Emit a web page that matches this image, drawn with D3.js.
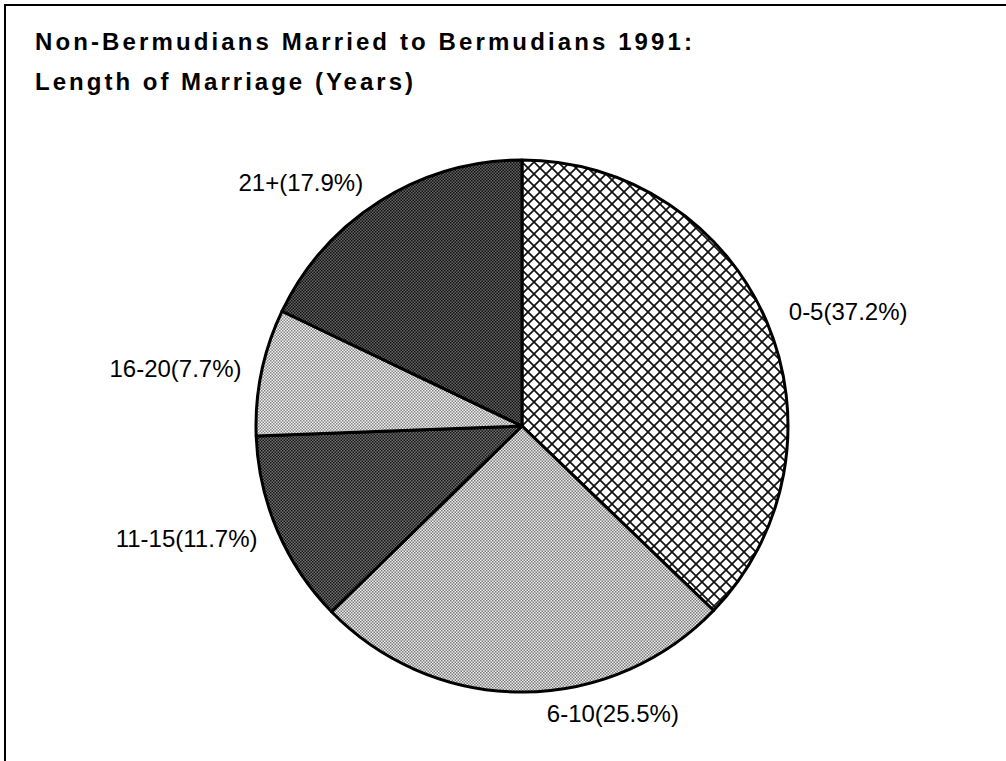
<!DOCTYPE html>
<html>
<head>
<meta charset="utf-8">
<script src="https://cdn.jsdelivr.net/npm/d3@7"></script>
<style>
  html, body { margin: 0; padding: 0; background: #fff; }
  svg { display: block; }
</style>
</head>
<body>
<svg id="chart" width="1006" height="761"></svg>
<script>
const titleLines = ["Non-Bermudians Married to Bermudians 1991:", "Length of Marriage (Years)"];
const categories = ["0-5", "6-10", "11-15", "16-20", "21+"];
const percents = [37.2, 25.5, 11.7, 7.7, 17.9];
const fills = ["url(#hatch)", "url(#lightA)", "url(#darkA)", "url(#lightB)", "url(#darkB)"];
// label placement relative to the slice's mid-angle point on the rim
const labelPos = [
  {anchor: "start", dx: 22, dy: -2},
  {anchor: "start", dx: 24, dy: 30},
  {anchor: "end", dx: -20, dy: 16},
  {anchor: "end", dx: -20, dy: 5},
  {anchor: "end", dx: -17, dy: -10}
];

const svg = d3.select("#chart");
const W = 1006, H = 761;
const cx = 522, cy = 426, R = 266;
const FONT = "Liberation Sans, Arial, Helvetica, sans-serif";

const defs = svg.append("defs");
const hatch = defs.append("pattern").attr("id", "hatch").attr("patternUnits", "userSpaceOnUse")
  .attr("width", 12).attr("height", 12).attr("x", cx).attr("y", cy);
hatch.append("rect").attr("width", 12).attr("height", 12).attr("fill", "#fff");
hatch.append("path").attr("d", "M-1,-1 L13,13 M13,-1 L-1,13").attr("stroke", "#111").attr("stroke-width", 1.7);

function dotPattern(id, bg, dot, size) {
  const p = defs.append("pattern").attr("id", id).attr("patternUnits", "userSpaceOnUse")
    .attr("width", size).attr("height", size);
  p.append("rect").attr("width", size).attr("height", size).attr("fill", bg);
  p.append("rect").attr("x", 0).attr("y", 0).attr("width", size / 2).attr("height", size / 2).attr("fill", dot);
  p.append("rect").attr("x", size / 2).attr("y", size / 2).attr("width", size / 2).attr("height", size / 2).attr("fill", dot);
}
dotPattern("lightA", "#eeeeee", "#7a7a7a", 3);
dotPattern("lightB", "#f2f2f2", "#858585", 3);
dotPattern("darkA", "#707070", "#161616", 3);
dotPattern("darkB", "#646464", "#111111", 3);

// frame
svg.append("path").attr("d", `M5,${H} L5,5 L${W},5`).attr("fill", "none").attr("stroke", "#000").attr("stroke-width", 2);

// title
const titleLen = [657, 378];
titleLines.forEach((t, i) => {
  svg.append("text").attr("x", 35).attr("y", 50 + i * 40)
    .attr("font-family", FONT).attr("font-weight", "bold").attr("font-size", 24)
    .attr("textLength", titleLen[i]).attr("lengthAdjust", "spacing")
    .attr("fill", "#000").text(t);
});

const data = categories.map((c, i) => ({cat: c, pct: percents[i], fill: fills[i], lp: labelPos[i]}));
const pie = d3.pie().value(d => d.pct).sort(null);
const arc = d3.arc().innerRadius(0).outerRadius(R);
const arcs = pie(data);

const g = svg.append("g").attr("transform", `translate(${cx},${cy})`);
g.selectAll("path.slice").data(arcs).join("path").attr("class", "slice")
  .attr("d", arc).attr("fill", d => d.data.fill)
  .attr("stroke", "#000").attr("stroke-width", 3).attr("stroke-linejoin", "round");

g.selectAll("text.lbl").data(arcs).join("text").attr("class", "lbl")
  .each(function(d) {
    const a = (d.startAngle + d.endAngle) / 2;
    const x = Math.sin(a) * R + d.data.lp.dx;
    const y = -Math.cos(a) * R + d.data.lp.dy;
    d3.select(this).attr("x", x).attr("y", y).attr("text-anchor", d.data.lp.anchor);
  })
  .attr("font-family", FONT).attr("font-size", 24).attr("fill", "#000")
  .text(d => `${d.data.cat}(${d.data.pct}%)`);
</script>
</body>
</html>
